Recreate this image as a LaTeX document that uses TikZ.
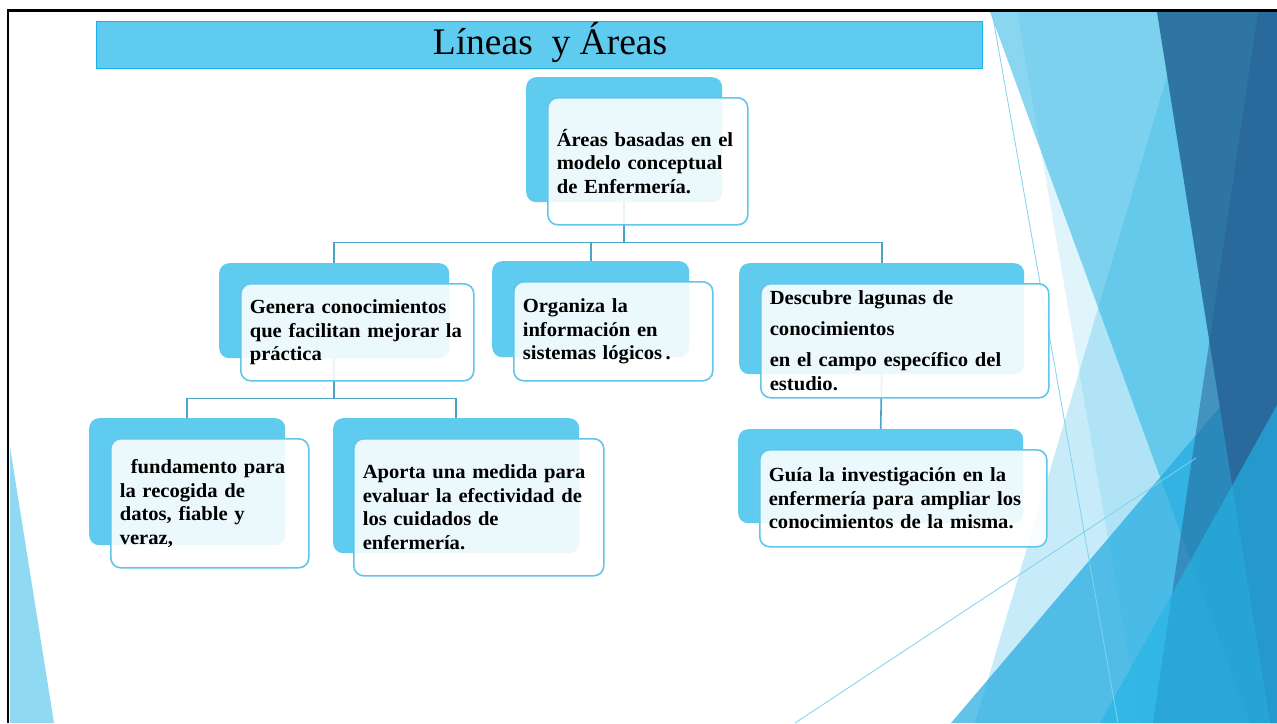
\documentclass[tikz,border=0pt]{standalone}
\usepackage{fontspec}
\setmainfont{Liberation Serif}
\newfontfamily\cajafont{Liberation Serif}[FakeStretch = 1.03, WordSpace = 0.8]
\definecolor{celeste}{HTML}{5FCBEE}
\definecolor{borde}{HTML}{62C6EC}
\definecolor{barra}{HTML}{19B3E9}
\definecolor{linea}{HTML}{4BA3C6}
\definecolor{claro}{HTML}{8AD6F1}
\definecolor{medio}{HTML}{29B5E5}
\definecolor{oscuro}{HTML}{2F75A3}
\definecolor{oscurob}{HTML}{255F95}
\definecolor{vivo}{HTML}{1FAAE0}
\definecolor{vivob}{HTML}{24B4E5}
\definecolor{hilo}{HTML}{7FD3F0}
\definecolor{esquina}{HTML}{8FDAF2}
\pgfdeclarelayer{fondo}
\pgfsetlayers{fondo,main}

\begin{document}
\begin{tikzpicture}[x = 1pt, y = -1pt,
	atras/.style = {fill = celeste, rounded corners = 10pt, anchor = north west, inner sep = 0pt},
	frente/.style = {draw = borde, line width = 1.6pt, fill = white, fill opacity = 0.88, text opacity = 1,
		rounded corners = 10pt, anchor = north west, inner xsep = 9pt, inner ysep = 0pt, align = left,
		font = \cajafont\fontsize{20}{23.5}\selectfont\bfseries},
	enlace/.style = {draw = linea, line width = 1.6pt}]
	\useasboundingbox (0,0) rectangle (1277,723);
	\begin{pgfonlayer}{fondo}
		\fill[white] (0,0) rectangle (1277,723);
	\end{pgfonlayer}
	\fill[claro] (990,12) -- (1277,12) -- (1277,723) -- (1250,723) -- cycle;
	\fill[medio, opacity = 0.26] (1186,12) -- (1277,12) -- (1277,723) -- (975,723) -- cycle;
	\fill[medio, opacity = 0.14] (1017,12) -- (1277,12) -- (1277,723) -- (1140,723) -- cycle;
	\fill[vivo, opacity = 0.7] (951,723) -- (1277,340) -- (1277,723) -- cycle;
	\fill[oscuro] (1157,12) -- (1277,12) -- (1277,723) -- (1270,723) -- cycle;
	\fill[oscurob, opacity = 0.5] (1258,12) -- (1277,12) -- (1277,723) -- (1153,723) -- cycle;
	\fill[vivob, opacity = 0.65] (1100,723) -- (1277,405) -- (1277,723) -- cycle;
	\draw[hilo, line width = 0.8pt] (992,12) -- (1118,723);
	\draw[hilo, line width = 0.8pt] (795,723) -- (1196,458);
	\fill[esquina] (10,447) -- (10,723) -- (54,723) -- cycle;

	\node[fill = celeste, draw = barra, line width = 1pt, anchor = north west, minimum width = 886pt, minimum height = 47pt] (barra) at (96,21) {};
	\node[anchor = base, font = \fontsize{37.5}{40}\selectfont] (titulo) at (550,54) {Líneas\ \ y Áreas};

	\node[atras, minimum width = 196pt, minimum height = 125pt] (areasB) at (526,77) {};
	\node[frente, text width = 182pt, minimum height = 127pt] (areas) at (547,97) {Áreas basadas en el\\ modelo conceptual\\ de Enfermería.};

	\node[atras, minimum width = 230pt, minimum height = 95pt] (generaB) at (219,263) {};
	\node[frente, text width = 215pt, minimum height = 97pt] (genera) at (240,283) {Genera conocimientos\\ que facilitan mejorar la\\ práctica};

	\node[atras, minimum width = 197pt, minimum height = 96pt] (organizaB) at (492,261) {};
	\node[frente, text width = 181pt, minimum height = 99pt] (organiza) at (513,281) {Organiza la\\ información en\\ sistemas lógicos\,.};

	\node[atras, minimum width = 285pt, minimum height = 111pt] (descubreB) at (739,263) {};
	\node[frente, text width = 270pt, minimum height = 114pt] (descubre) at (760,283) {Descubre lagunas de\\[7pt] conocimientos\\[8pt] en el campo específico del\\ estudio.};

	\node[atras, minimum width = 285pt, minimum height = 94pt] (guiaB) at (738,429) {};
	\node[frente, text width = 269pt, minimum height = 97pt] (guia) at (759,449) {Guía la investigación en la\\ enfermería para ampliar los\\ conocimientos de la misma.};

	\node[atras, minimum width = 196pt, minimum height = 127pt] (fundaB) at (89,418) {};
	\node[frente, text width = 180pt, minimum height = 129pt] (funda) at (110,438) {\hspace*{11pt}fundamento para\\ la recogida de\\ datos, fiable y\\ veraz,};

	\node[atras, minimum width = 246pt, minimum height = 135pt] (aportaB) at (333,418) {};
	\node[frente, text width = 232pt, minimum height = 137pt] (aporta) at (353,438) {Aporta una medida para\\ evaluar la efectividad de\\ los cuidados de\\ enfermería.};

	\begin{pgfonlayer}{fondo}
		\draw[enlace] (areasB.south) -- ++(0,40) -| (generaB.north);
		\draw[enlace] (areasB.south) -- ++(0,40) -| (organizaB.north);
		\draw[enlace] (areasB.south) -- ++(0,40) -| (descubreB.north);
		\draw[enlace] (generaB.south) -- ++(0,40) -| (fundaB.north);
		\draw[enlace] (generaB.south) -- ++(0,40) -| (aportaB.north);
		\draw[enlace] (descubreB.south) -- (guiaB.north);
	\end{pgfonlayer}

	\draw[line width = 2.2pt] (8,723) -- (8,10.5) -- (1277,10.5);
\end{tikzpicture}
\end{document}
